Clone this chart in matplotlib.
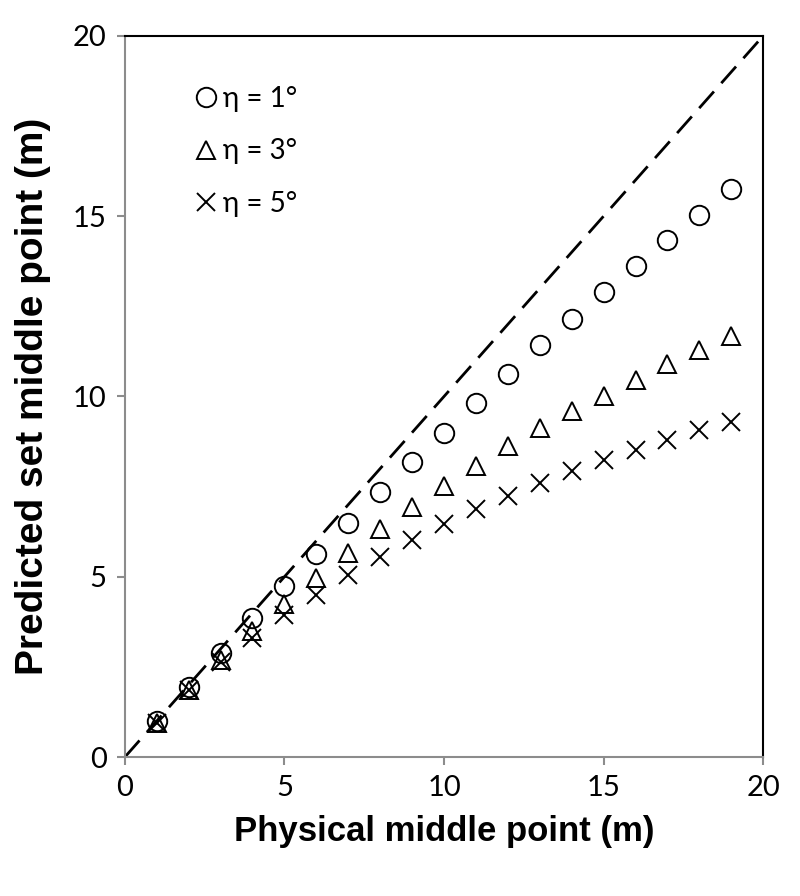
import numpy as np
import matplotlib.pyplot as plt

x_vals = list(range(1, 20))
eta1 = [1.0, 1.95, 2.9, 3.85, 4.75, 5.62, 6.5, 7.35, 8.18, 9.0, 9.82, 10.62,
        11.42, 12.15, 12.9, 13.62, 14.35, 15.04, 15.76]
eta3 = [0.95, 1.85, 2.7, 3.5, 4.24, 4.97, 5.66, 6.32, 6.93, 7.52, 8.07, 8.63,
        9.13, 9.6, 10.01, 10.46, 10.9, 11.29, 11.68]
eta5 = [0.95, 1.85, 2.64, 3.3, 3.94, 4.49, 5.05, 5.55, 6.02, 6.46, 6.88, 7.24,
        7.6, 7.93, 8.24, 8.52, 8.79, 9.07, 9.29]
labels = ['η = 1°', 'η = 3°', 'η = 5°']
ticks = [0, 5, 10, 15, 20]

fig = plt.figure(figsize=(8, 8.96), dpi=100, facecolor='white')
ax = fig.add_axes([0.156, 0.155, 0.798, 0.805])

ax.plot([0, 20], [0, 20], color='black', linestyle=(0, (8, 4)), linewidth=2.0, zorder=1)
ax.plot(x_vals, eta1, linestyle='none', marker='o', markersize=14,
        markerfacecolor='none', markeredgecolor='black', markeredgewidth=1.4, label=labels[0])
ax.plot(x_vals, eta3, linestyle='none', marker='^', markersize=13,
        markerfacecolor='none', markeredgecolor='black', markeredgewidth=1.4, label=labels[1])
ax.plot(x_vals, eta5, linestyle='none', marker='x', markersize=13,
        markeredgecolor='black', markeredgewidth=1.4, label=labels[2])

ax.set_xlim(0, 20)
ax.set_ylim(0, 20)
ax.set_xticks(ticks)
ax.set_yticks(ticks)
for s in ['left', 'bottom']:
    ax.spines[s].set_color('#8c8c8c')
    ax.spines[s].set_linewidth(1.5)
for s in ['top', 'right']:
    ax.spines[s].set_color('black')
    ax.spines[s].set_linewidth(1.5)
ax.tick_params(direction='out', length=6, width=1.5, color='#8c8c8c',
               labelsize=21, pad=7)
for lab in ax.get_xticklabels() + ax.get_yticklabels():
    lab.set_family('Lato')

ax.set_xlabel('Physical middle point (m)', fontsize=25, fontweight='bold',
              family='Liberation Sans', labelpad=10)
ax.set_ylabel('Predicted set middle point (m)', fontsize=28, fontweight='bold',
              family='Liberation Sans', labelpad=16)

leg = ax.legend(loc='upper left', bbox_to_anchor=(0.075, 0.965), frameon=False,
                handlelength=0.6, handletextpad=0.3, labelspacing=0.95,
                prop={'family': 'Lato', 'size': 20}, markerscale=1.0)

plt.savefig('out.png', dpi=100, facecolor='white')
